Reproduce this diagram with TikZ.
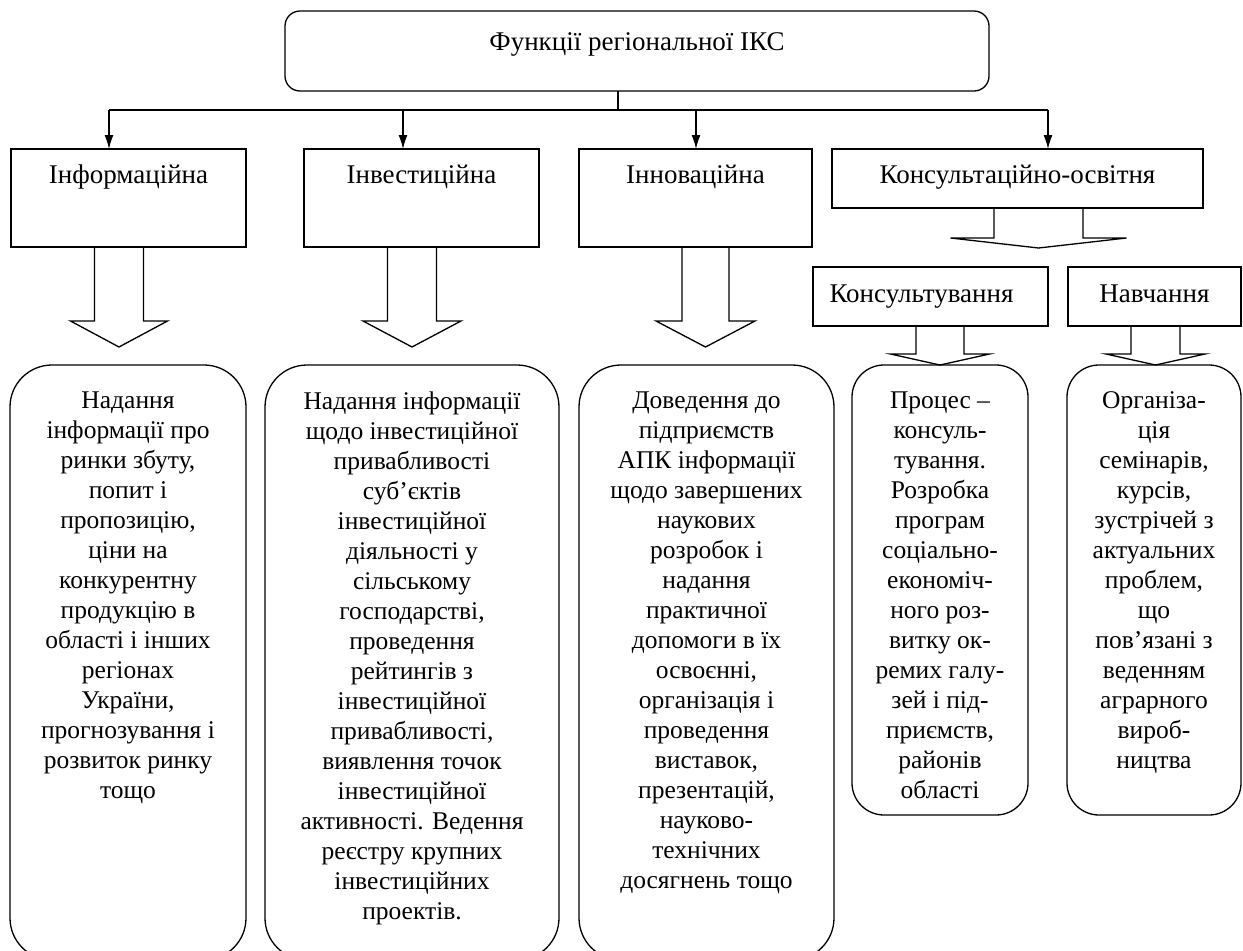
\documentclass[tikz,border=0pt]{standalone}
\usepackage{fontspec}
\setmainfont{Liberation Serif}
\usetikzlibrary{arrows.meta,calc}
\newcommand\blkarr[6]{% cx, half shaft, half head, ytop, yhead, ytip
  \draw[line join=miter] ({#1-#2},#4) -- ({#1-#2},#5) -- ({#1-#3},#5) -- (#1,#6) -- ({#1+#3},#5) -- ({#1+#2},#5) -- ({#1+#2},#4);}
\begin{document}
\begin{tikzpicture}[x=1pt,y=-1pt,line width=1.3pt,
  txt/.style={font=\fontsize{27}{30}\selectfont, inner sep=0pt, anchor=base},
  body/.style={font=\fontsize{25.5}{30}\selectfont, inner sep=0pt, align=center, anchor=north},
  sqbox/.style={draw, rectangle, inner sep=0pt, outer sep=0pt, anchor=north west},
  rbox/.style={sqbox, rounded corners=#1},
  conn/.style={-{Latex[length=14pt,width=9pt]}}]
\useasboundingbox (0,0) rectangle (1243,951);
% top
\node[rbox=15, minimum width=704, minimum height=80] (top) at (285,11) {};
\node[txt] (ttl) at ($(top.north)+(0,39)$) {Функції регіональної ІКС};
% level 2
\node[sqbox, minimum width=235, minimum height=98] (b1) at (11,149) {};
\node[sqbox, minimum width=235, minimum height=98] (b2) at (304,149) {};
\node[sqbox, minimum width=233, minimum height=98] (b3) at (579,149) {};
\node[sqbox, minimum width=371, minimum height=59] (b4) at (832,149) {};
\node[txt] (l1) at ($(b1.north)+(0,34)$) {Інформаційна};
\node[txt] (l2) at ($(b2.north)+(0,34)$) {Інвестиційна};
\node[txt] (l3) at ($(b3.north)+(0,34)$) {Інноваційна};
\node[txt] (l4) at ($(b4.north)+(0,34)$) {Консультаційно-освітня};
% connectors
\coordinate (bus) at (618,110);
\coordinate (j1) at (109,110);
\coordinate (j2) at (403,110);
\coordinate (j3) at (696,110);
\coordinate (j4) at (1048,110);
\draw (top.south -| bus) -- (bus);
\draw (j1) -- (j4);
\draw[conn] (j1) -- (j1 |- b1.north);
\draw[conn] (j2) -- (j2 |- b2.north);
\draw[conn] (j3) -- (j3 |- b3.north);
\draw[conn] (j4) -- (j4 |- b4.north);
% level 3
\node[sqbox, minimum width=235, minimum height=59] (k1) at (813,267) {};
\node[sqbox, minimum width=173, minimum height=59] (k2) at (1068,267) {};
\node[txt] (lk1) at ($(k1.north)+(-9,35)$) {Консультування};
\node[txt] (lk2) at ($(k2.north)+(0,35)$) {Навчання};
% block arrows
\blkarr{119}{24.5}{48.5}{247}{321}{347}
\blkarr{412}{24.5}{49}{247}{321}{347}
\blkarr{705.5}{23.5}{49.5}{247}{321}{347}
\blkarr{1038.5}{44.5}{88}{208}{238}{248}
\blkarr{940}{24}{49.5}{326}{354}{365}
\blkarr{1155.5}{24.5}{49.5}{326}{354}{365}
% bottom boxes
\node[rbox=42, minimum width=236, minimum height=595] (d1) at (10,365) {};
\node[rbox=42, minimum width=294, minimum height=595] (d2) at (265,365) {};
\node[rbox=42, minimum width=255, minimum height=595] (d3) at (579,365) {};
\node[rbox=32, minimum width=176, minimum height=450] (d4) at (852,365) {};
\node[rbox=32, minimum width=174, minimum height=450] (d5) at (1067,365) {};
\node[body] (t1) at ($(d1.north)+(0,26)$) {Надання\\інформації про\\ринки збуту,\\попит і\\пропозицію,\\ціни на\\конкурентну\\продукцію в\\області і інших\\регіонах\\України,\\прогнозування і\\розвиток ринку\\тощо};
\node[body] (t2) at ($(d2.north)+(0,26)$) {Надання інформації\\щодо інвестиційної\\привабливості\\суб’єктів\\інвестиційної\\діяльності у\\сільському\\господарстві,\\проведення\\рейтингів з\\інвестиційної\\привабливості,\\виявлення точок\\інвестиційної\\активності. Ведення\\реєстру крупних\\інвестиційних\\проектів.};
\node[body] (t3) at ($(d3.north)+(0,26)$) {Доведення до\\підприємств\\АПК інформації\\щодо завершених\\наукових\\розробок і\\надання\\практичної\\допомоги в їх\\освоєнні,\\організація і\\проведення\\виставок,\\презентацій,\\науково-\\технічних\\досягнень тощо};
\node[body] (t4) at ($(d4.north)+(0,26)$) {Процес –\\консуль-\\тування.\\Розробка\\програм\\соціально-\\економіч-\\ного роз-\\витку ок-\\ремих галу-\\зей і під-\\приємств,\\районів\\області};
\node[body] (t5) at ($(d5.north)+(0,26)$) {Організа-\\ція\\семінарів,\\курсів,\\зустрічей з\\актуальних\\проблем,\\що\\пов’язані з\\веденням\\аграрного\\вироб-\\ництва};
\end{tikzpicture}
\end{document}
